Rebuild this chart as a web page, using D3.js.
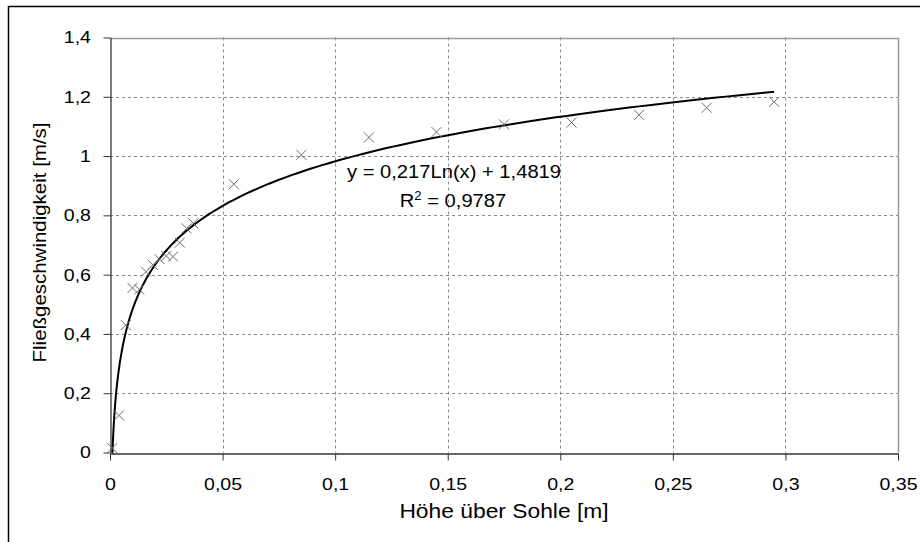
<!DOCTYPE html>
<html>
<head>
<meta charset="utf-8">
<script src="https://cdn.jsdelivr.net/npm/d3@7"></script>
<style>
  html, body { margin: 0; padding: 0; background: #fff; }
  svg text { font-family: "Liberation Sans", Arial, sans-serif; fill: #000; }
</style>
</head>
<body>
<svg id="chart" width="920" height="542"></svg>
<script>
// Measured flow velocity over height above the channel bed
const heights = [0.001, 0.004, 0.007, 0.010, 0.013, 0.016, 0.019, 0.022, 0.025, 0.028, 0.031, 0.034, 0.037,
                 0.055, 0.085, 0.115, 0.145, 0.175, 0.205, 0.235, 0.265, 0.295];
const velocities = [0.015, 0.125, 0.43, 0.555, 0.55, 0.61, 0.633, 0.652, 0.663, 0.661, 0.708, 0.756, 0.773,
                    0.905, 1.004, 1.063, 1.081, 1.107, 1.113, 1.139, 1.163, 1.183];

// Logarithmic trend line  y = a·ln(x) + b
const trendA = 0.217;
const trendB = 1.4819;
const trendR2 = 0.9787;

const xTicks = [0, 0.05, 0.1, 0.15, 0.2, 0.25, 0.3, 0.35];
const yTicks = [0, 0.2, 0.4, 0.6, 0.8, 1.0, 1.2, 1.4];

const xTitle = "Höhe über Sohle [m]";
const yTitle = "Fließgeschwindigkeit [m/s]";

const fmt = v => String(+v.toFixed(2)).replace(".", ",");
const dec = v => String(v).replace(".", ",");
const STRETCH = 1.15;

const svg = d3.select("#chart");
const m = { left: 110, right: 898, top: 37.5, bottom: 452.5 };

const x = d3.scaleLinear().domain([0, 0.35]).range([m.left, m.right]);
const y = d3.scaleLinear().domain([0, 1.4]).range([m.bottom, m.top]);

// outer chart frame
svg.append("path")
  .attr("d", `M8.5,542 V6.5 H920`)
  .attr("fill", "none").attr("stroke", "#000").attr("stroke-width", 1.5);

// dashed grid
const grid = svg.append("g");
grid.selectAll("line.h").data(yTicks.filter(v => v > 0 && v < 1.4)).join("line")
  .attr("x1", m.left).attr("x2", m.right)
  .attr("y1", d => Math.round(y(d)) + 0.5).attr("y2", d => Math.round(y(d)) + 0.5)
  .attr("stroke", "#8a8a8a").attr("stroke-dasharray", "3,3");
grid.selectAll("line.v").data(xTicks.filter(v => v > 0 && v < 0.35)).join("line")
  .attr("y1", m.top).attr("y2", m.bottom)
  .attr("x1", d => Math.round(x(d)) + 0.5).attr("x2", d => Math.round(x(d)) + 0.5)
  .attr("stroke", "#8a8a8a").attr("stroke-dasharray", "3,3");

// plot area border (top and right)
svg.append("path")
  .attr("d", `M${m.left},${Math.round(m.top) + 0.5} H${Math.round(m.right) + 0.5} V${m.bottom}`)
  .attr("fill", "none").attr("stroke", "#9a9a9a").attr("stroke-width", 1.5);

// axes
const xAxis = svg.append("g")
  .attr("transform", `translate(0,${Math.round(m.bottom) + 0.5})`)
  .call(d3.axisBottom(x).tickValues(xTicks).tickFormat(fmt).tickSize(7).tickSizeOuter(0).tickPadding(17));
const yAxis = svg.append("g")
  .attr("transform", `translate(${Math.round(m.left) + 0.5},0)`)
  .call(d3.axisLeft(y).tickValues(yTicks).tickFormat(fmt).tickSize(7).tickSizeOuter(0).tickPadding(10));

[xAxis, yAxis].forEach(a => {
  a.select(".domain").attr("stroke", "#333").attr("stroke-width", 1.3);
  a.selectAll(".tick line").attr("stroke", "#333");
  a.selectAll(".tick text")
    .attr("font-size", 17)
    .attr("font-family", "'Liberation Sans', Arial, sans-serif")
    .attr("fill", "#000")
    .attr("transform", `scale(${STRETCH},1)`);
});

// trend line
const lo = Math.log(d3.min(heights)), hi = Math.log(d3.max(heights));
const trendXs = d3.range(0, 301).map(i => Math.exp(lo + i / 300 * (hi - lo)));
const line = d3.line()
  .x(d => x(d))
  .y(d => y(Math.max(0, trendA * Math.log(d) + trendB)));
svg.append("path")
  .datum(trendXs)
  .attr("d", line)
  .attr("fill", "none").attr("stroke", "#000").attr("stroke-width", 2);

// measured points as × markers
const r = 5;
svg.append("g").selectAll("path").data(heights.map((h, i) => [h, velocities[i]])).join("path")
  .attr("d", d => {
    const cx = x(d[0]), cy = y(d[1]);
    return `M${cx - r},${cy - r}L${cx + r},${cy + r}M${cx - r},${cy + r}L${cx + r},${cy - r}`;
  })
  .attr("stroke", "#6e6e6e").attr("stroke-width", 1).attr("fill", "none");

// text stretched along its own direction
function label(txt, cx, cy, size, k, rotate) {
  const g = svg.append("g").attr("transform", `translate(${cx},${cy})${rotate ? ` rotate(${rotate})` : ""}`);
  return g.append("text")
    .attr("text-anchor", "middle")
    .attr("font-size", size)
    .attr("transform", `scale(${k},1)`)
    .text(txt);
}

// regression equation
label(`y = ${dec(trendA)}Ln(x) + ${dec(trendB)}`, 454, 178, 18.5, 1.09);
const r2 = svg.append("g").attr("transform", "translate(453,207)")
  .append("text").attr("text-anchor", "middle").attr("font-size", 18.5)
  .attr("transform", "scale(1.09,1)");
r2.append("tspan").text("R");
r2.append("tspan").attr("dy", -7).attr("font-size", 12).text("2");
r2.append("tspan").attr("dy", 7).text(` = ${dec(trendR2)}`);

// axis titles
label(xTitle, (m.left + m.right) / 2, 518, 19.5, 1.17);
label(yTitle, 46, 242.5, 17.5, 1.17, -90);
</script>
</body>
</html>
